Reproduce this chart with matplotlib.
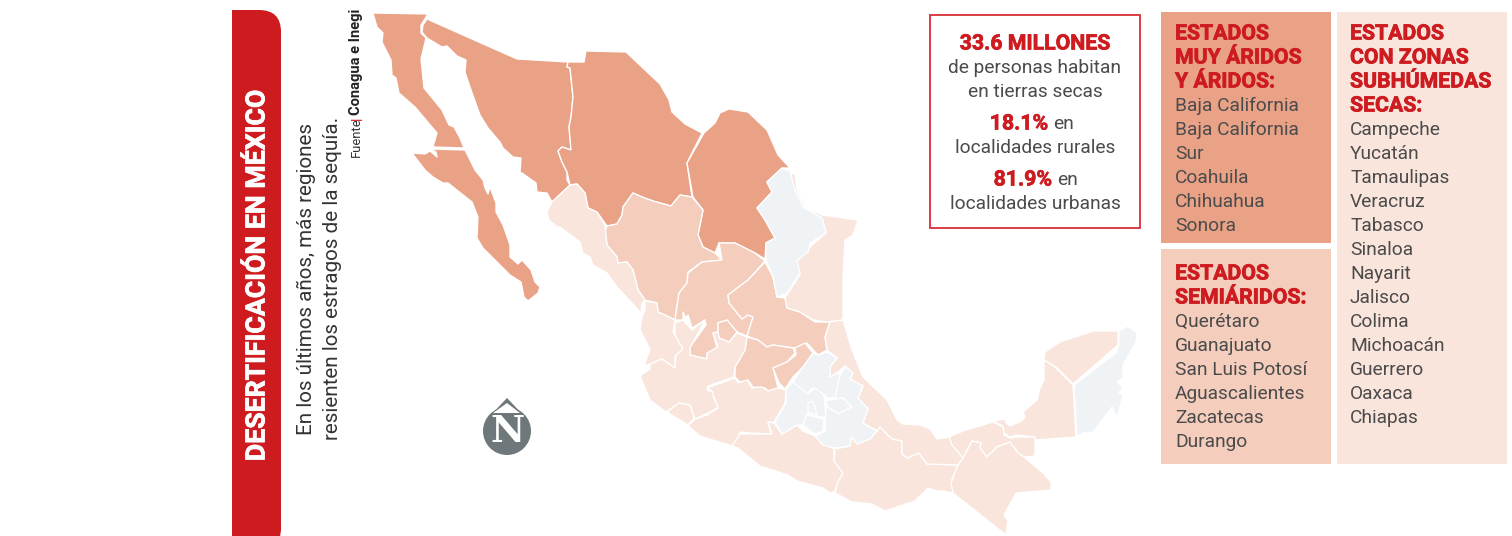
import matplotlib
matplotlib.use('Agg')
import matplotlib.pyplot as plt
import matplotlib.patheffects as pe
from matplotlib.patches import Polygon, Rectangle, FancyBboxPatch, Circle

plt.rcParams['font.family'] = ['Roboto', 'DejaVu Sans']

ROJO = '#CE1B20'
GRIS = '#4B4B4B'
C_ARIDO = '#EAA287'
C_SEMI = '#F4CDBC'
C_SUBH = '#F9E5DB'
C_OTRO = '#EFF3F6'

# contornos de los estados, en pixeles de la imagen
baja_california = [(373,13),(428,14),(421,25),(421,33),(426,38),(421,59),(424,88),(442,110),(449,125),(454,127),(460,138),(464,148),(433,147),(437,133),(415,107),(399,93),(396,78),(392,75),(391,60),(382,42),(383,33),(377,27)]
baja_sur = [(412,153),(425,154),(430,151),(437,157),(436,152),(431,149),(465,150),(475,170),(483,180),(485,188),(488,194),(490,187),(496,203),(496,212),(503,225),(510,245),(510,257),(518,264),(522,260),(531,270),(535,282),(540,287),(538,293),(528,301),(524,297),(521,282),(510,275),(483,248),(477,238),(478,217),(472,202),(448,183),(443,183),(433,177),(425,170)]
sonora = [(427,19),(517,59),(568,62),(567,67),(570,68),(573,97),(571,117),(569,127),(571,150),(562,147),(558,151),(562,162),(567,172),(567,180),(570,185),(552,202),(547,193),(537,192),(536,183),(522,173),(520,173),(521,158),(513,157),(503,148),(500,142),(488,128),(480,115),(470,87),(465,72),(466,60),(457,56),(447,46),(442,47),(427,38),(422,32),(423,25)]
chihuahua = [(568,62),(584,62),(586,51),(626,52),(660,84),(669,100),(672,112),(685,124),(702,133),(687,163),(692,197),(680,195),(671,206),(653,201),(642,197),(633,193),(623,207),(622,215),(617,224),(607,226),(597,212),(588,208),(585,193),(577,184),(570,185),(567,172),(562,162),(558,151),(562,147),(571,150),(569,127),(571,117),(573,97),(570,68),(567,67)]
coahuila = [(704,133),(715,123),(720,113),(729,109),(748,112),(767,130),(778,155),(790,168),(782,168),(767,182),(772,192),(757,208),(765,220),(775,238),(766,243),(765,259),(755,253),(735,243),(719,243),(715,253),(703,247),(698,235),(703,210),(693,197),(687,163)]
durango = [(607,226),(617,224),(622,215),(623,207),(633,193),(642,197),(653,201),(671,206),(680,195),(692,197),(703,210),(698,235),(703,247),(715,253),(722,260),(702,262),(688,272),(687,283),(679,293),(675,320),(665,315),(658,312),(657,303),(645,300),(638,290),(633,270),(627,262),(618,263),(617,257),(607,245),(605,232)]
zacatecas = [(702,262),(688,273),(687,283),(679,293),(675,320),(683,320),(683,312),(686,318),(688,315),(692,328),(705,320),(706,325),(690,347),(690,355),(706,359),(707,353),(717,348),(713,333),(718,332),(718,323),(727,320),(737,332),(747,336),(753,317),(748,315),(742,319),(729,303),(728,295),(748,280),(765,261),(755,253),(735,243),(719,243),(722,260)]
aguascalientes = [(718,323),(727,320),(737,332),(729,342),(719,338),(718,332)]
san_luis = [(765,262),(773,277),(777,297),(785,298),(787,308),(800,312),(815,322),(830,322),(825,337),(827,350),(818,355),(807,343),(795,348),(773,345),(767,347),(758,340),(747,336),(753,317),(748,315),(742,319),(729,303),(728,295),(748,280)]
guanajuato = [(747,337),(745,350),(735,367),(735,377),(740,382),(748,380),(753,387),(765,388),(768,391),(778,388),(773,368),(787,362),(795,353),(793,348),(773,345),(767,347),(758,340)]
queretaro = [(795,348),(805,343),(813,353),(803,367),(793,377),(785,389),(779,383),(773,368),(787,362),(796,355)]
nuevo_leon = [(782,168),(790,171),(795,190),(803,207),(822,218),(826,233),(810,243),(808,252),(797,261),(800,273),(787,293),(777,297),(773,277),(766,260),(766,243),(775,238),(765,220),(757,208),(772,192),(767,182)]
hidalgo = [(813,353),(818,355),(827,352),(837,358),(830,367),(830,377),(840,372),(837,397),(827,398),(825,395),(812,388),(807,395),(793,382),(803,367)]
tlaxcala = [(826,401),(835,399),(843,398),(852,407),(838,414),(827,406)]
edomex = [(793,382),(808,394),(815,388),(824,395),(826,418),(807,414),(803,425),(797,425),(782,434),(775,422),(786,403),(786,389)]
cdmx = [(808,403),(813,401),(817,414),(808,413)]
morelos = [(807,415),(824,419),(823,431),(815,434),(803,425)]
puebla = [(845,366),(853,373),(850,379),(863,386),(858,398),(868,409),(863,423),(877,431),(870,439),(857,444),(852,437),(850,446),(835,448),(823,445),(815,436),(825,431),(826,406),(838,414),(852,407),(843,398),(835,399),(837,388),(840,376)]
quintana_roo = [(1119,331),(1128,326),(1137,333),(1136,342),(1123,365),(1123,378),(1117,382),(1123,387),(1119,393),(1123,395),(1117,418),(1112,407),(1093,432),(1083,433),(1077,437),(1074,385),(1116,353),(1119,345)]
tamaulipas = [(790,175),(795,173),(797,190),(805,207),(822,215),(858,220),(853,235),(845,240),(843,277),(843,320),(827,322),(813,320),(800,312),(787,308),(785,298),(800,275),(797,261),(810,247),(826,233),(822,218),(803,207),(795,190)]
sinaloa = [(570,185),(577,184),(585,193),(588,208),(597,212),(605,225),(607,245),(617,257),(618,263),(627,262),(633,270),(638,290),(645,300),(642,303),(641,313),(632,303),(617,287),(607,273),(593,265),(590,257),(583,253),(580,242),(560,227),(557,227),(549,220),(547,212),(552,202)]
nayarit = [(645,301),(657,303),(658,312),(665,315),(675,320),(673,332),(683,349),(675,356),(675,368),(662,359),(651,364),(644,366),(650,350),(647,343),(640,330),(642,317),(645,310)]
jalisco = [(640,376),(650,369),(650,364),(662,359),(675,368),(676,355),(683,349),(675,335),(675,323),(683,320),(692,330),(705,320),(690,348),(690,355),(707,359),(707,353),(718,347),(713,333),(718,332),(719,338),(729,342),(737,333),(747,337),(745,350),(735,367),(734,377),(708,386),(707,390),(715,393),(713,397),(719,407),(708,413),(695,419),(690,405),(679,403),(666,412),(650,400)]
colima = [(667,412),(679,403),(690,405),(694,418),(688,425)]
michoacan = [(707,388),(735,378),(738,383),(747,380),(752,388),(762,387),(768,391),(778,388),(786,390),(785,403),(774,422),(768,422),(771,434),(750,433),(740,432),(738,439),(732,446),(700,436),(688,426),(695,419),(707,415),(718,408),(712,391)]
guerrero = [(774,423),(782,434),(797,425),(803,431),(815,436),(825,445),(834,449),(834,461),(843,473),(838,482),(835,491),(830,493),(823,488),(797,481),(788,475),(760,466),(738,448),(732,446),(740,434),(750,434),(772,434),(768,422)]
oaxaca = [(835,449),(850,446),(852,437),(857,444),(870,439),(880,427),(892,439),(902,441),(902,454),(907,458),(919,453),(927,464),(958,465),(952,479),(953,493),(943,491),(937,491),(928,488),(915,501),(885,511),(872,504),(852,502),(835,493),(838,482),(843,473),(834,461)]
veracruz = [(830,322),(843,320),(852,350),(863,377),(887,400),(897,420),(903,424),(920,425),(930,429),(937,439),(949,437),(953,444),(963,458),(958,465),(927,464),(919,453),(907,458),(902,454),(902,441),(892,439),(880,427),(877,431),(863,423),(868,409),(858,398),(863,386),(850,379),(853,373),(845,366),(838,372),(830,377),(830,367),(837,358),(827,350),(825,337)]
tabasco = [(949,437),(963,431),(973,428),(993,422),(1003,427),(1004,435),(1010,438),(1017,437),(1035,437),(1035,456),(1024,457),(1018,453),(1010,442),(997,447),(987,457),(980,448),(981,443),(972,441),(963,458),(952,445)]
chiapas = [(972,441),(981,443),(980,448),(987,457),(997,447),(1010,442),(1018,453),(1024,457),(1043,473),(1051,482),(1051,490),(1016,493),(1004,515),(1008,521),(1006,535),(953,493),(951,483),(957,467),(963,458)]
campeche = [(1044,360),(1055,367),(1073,385),(1076,437),(1035,440),(1035,437),(1017,435),(1010,437),(1004,433),(1003,426),(993,421),(1005,419),(1006,423),(1010,426),(1020,422),(1025,417),(1023,412),(1037,400),(1040,388),(1044,380)]
yucatan = [(1044,360),(1045,352),(1060,342),(1093,331),(1118,331),(1118,345),(1073,384),(1056,367)]
cozumel = [(1135,359),(1138,355),(1138,358)]

aridos = [baja_california, baja_sur, sonora, chihuahua, coahuila]
semiaridos = [durango, zacatecas, aguascalientes, san_luis, guanajuato, queretaro]
subhumedos = [tamaulipas, sinaloa, nayarit, jalisco, colima, michoacan, guerrero, oaxaca, veracruz, tabasco, chiapas, campeche, yucatan, cozumel]
otros = [nuevo_leon, hidalgo, tlaxcala, edomex, cdmx, morelos, puebla, quintana_roo]

tit_aridos = ['ESTADOS', 'MUY ÁRIDOS', 'Y ÁRIDOS:']
lista_aridos = ['Baja California', 'Baja California', 'Sur', 'Coahuila', 'Chihuahua', 'Sonora']
tit_semi = ['ESTADOS', 'SEMIÁRIDOS:']
lista_semi = ['Querétaro', 'Guanajuato', 'San Luis Potosí', 'Aguascalientes', 'Zacatecas', 'Durango']
tit_subh = ['ESTADOS', 'CON ZONAS', 'SUBHÚMEDAS', 'SECAS:']
lista_subh = ['Campeche', 'Yucatán', 'Tamaulipas', 'Veracruz', 'Tabasco', 'Sinaloa', 'Nayarit', 'Jalisco', 'Colima', 'Michoacán', 'Guerrero', 'Oaxaca', 'Chiapas']

fig = plt.figure(figsize=(15.12, 5.36), dpi=100)
ax = fig.add_axes([0, 0, 1, 1])
ax.set_xlim(0, 1512)
ax.set_ylim(536, 0)
ax.axis('off')

# engrosa un poco las negritas
grueso = [pe.withStroke(linewidth=0.5, foreground=ROJO)]
T_REG = 13.8
T_NEG = 15.3

# franja roja
franja = FancyBboxPatch((190, 10), 91, 540, boxstyle='round,pad=0,rounding_size=22', fc=ROJO, ec='none')
ax.add_patch(franja)
franja.set_clip_path(Rectangle((232, 0), 60, 536, transform=ax.transData))

ax.text(257, 276, 'DESERTIFICACIÓN EN MÉXICO', color='white', fontsize=19.2, fontweight='bold', rotation=90, ha='center', va='center',
        path_effects=[pe.withStroke(linewidth=0.5, foreground='white')])
ax.text(306, 279, 'En los últimos años, más regiones', color='#333333', fontsize=14.9, rotation=90, ha='center', va='center')
ax.text(333, 278, 'resienten los estragos de la sequía.', color='#333333', fontsize=14.9, rotation=90, ha='center', va='center')
ax.text(356, 157, 'Fuente', color='#333333', fontsize=9.4, rotation=90, ha='center', va='bottom')
ax.text(356, 118, '|', color=ROJO, fontsize=9.4, rotation=90, ha='center', va='center', fontweight='bold')
ax.text(356, 115, 'Conagua e Inegi', color='#222222', fontsize=10.5, fontweight='bold', rotation=90, ha='center', va='bottom')

# mapa
for grupo, color in [(aridos, C_ARIDO), (semiaridos, C_SEMI), (subhumedos, C_SUBH), (otros, C_OTRO)]:
    for estado in grupo:
        ax.add_patch(Polygon(estado, closed=True, fc=color, ec='white', lw=0.95, joinstyle='round'))

# norte
ax.add_patch(Circle((507, 431), 24, fc='#6E7779', ec='none'))
ax.add_patch(Polygon([(507, 398), (488, 418), (526, 418)], closed=True, fc='#6E7779', ec='none'))
ax.add_patch(Polygon([(507, 403), (493, 413), (520, 413)], closed=True, fc='white', ec='none'))
ax.text(507, 431, 'N', color='white', fontsize=27, fontweight='bold', family='DejaVu Serif', ha='center', va='center')

# recuadro de cifras
ax.add_patch(Rectangle((930, 15), 210, 213, fc='white', ec='#DD3C44', lw=1.4))
ax.text(1035, 44, '33.6 MILLONES', color=ROJO, fontsize=T_NEG, fontweight='bold', ha='center', va='center', path_effects=grueso)
ax.text(1035, 68, 'de personas habitan', color=GRIS, fontsize=T_REG, ha='center', va='center')
ax.text(1035, 92, 'en tierras secas', color=GRIS, fontsize=T_REG, ha='center', va='center')
ax.text(1048, 124, '18.1%', color=ROJO, fontsize=T_NEG, fontweight='bold', ha='right', va='center', path_effects=grueso)
ax.text(1053, 124, 'en', color=GRIS, fontsize=T_REG, ha='left', va='center')
ax.text(1035, 148, 'localidades rurales', color=GRIS, fontsize=T_REG, ha='center', va='center')
ax.text(1052, 180, '81.9%', color=ROJO, fontsize=T_NEG, fontweight='bold', ha='right', va='center', path_effects=grueso)
ax.text(1057, 180, 'en', color=GRIS, fontsize=T_REG, ha='left', va='center')
ax.text(1035, 204, 'localidades urbanas', color=GRIS, fontsize=T_REG, ha='center', va='center')

# columnas de estados
ax.add_patch(Rectangle((1161, 12), 170, 231, fc=C_ARIDO, ec='none'))
ax.add_patch(Rectangle((1161, 249), 170, 215, fc=C_SEMI, ec='none'))
ax.add_patch(Rectangle((1337, 12), 170, 452, fc=C_SUBH, ec='none'))

def columna(x, y, titulos, nombres):
    for t in titulos:
        ax.text(x, y, t, color=ROJO, fontsize=T_NEG, fontweight='bold', ha='left', va='center', path_effects=grueso)
        y += 24
    for n in nombres:
        ax.text(x, y, n, color=GRIS, fontsize=T_REG, ha='left', va='center')
        y += 24

columna(1175, 34, tit_aridos, lista_aridos)
columna(1175, 274, tit_semi, lista_semi)
columna(1350, 34, tit_subh, lista_subh)

fig.savefig('out.png', dpi=100)
